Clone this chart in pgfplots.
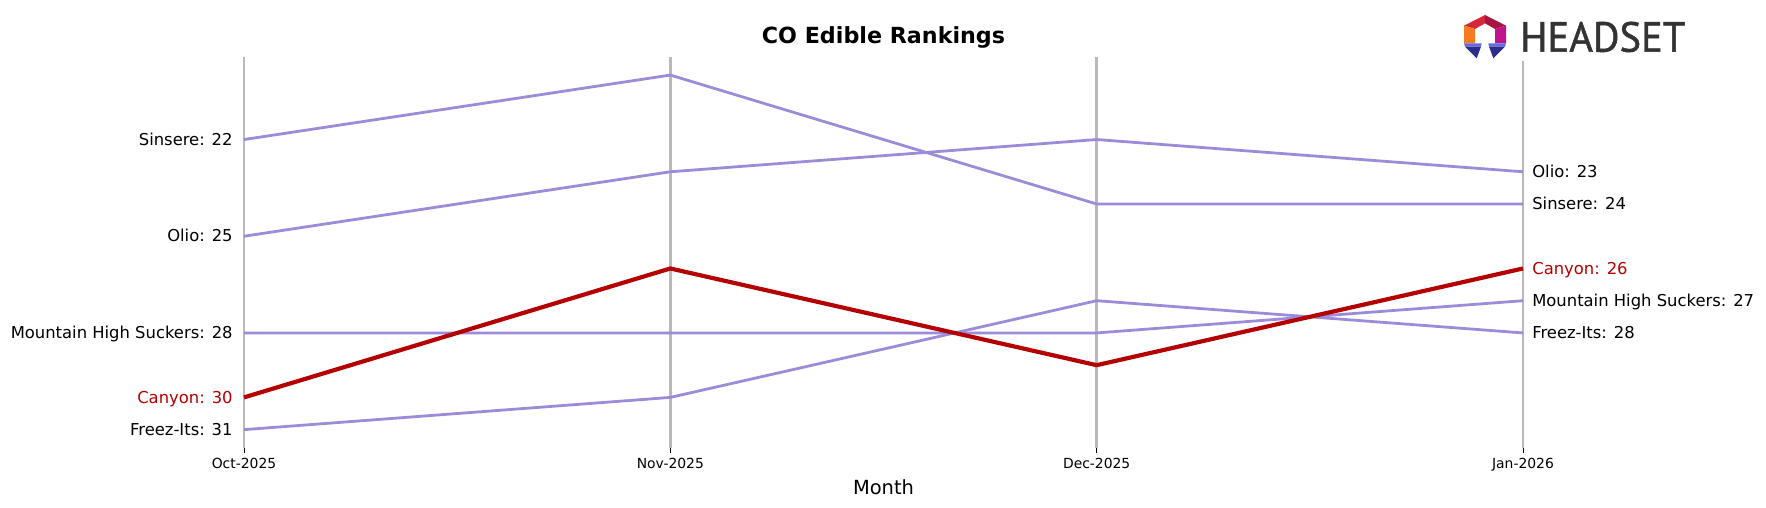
\documentclass[border=0pt]{standalone}
\usepackage{pgfplots}
\pgfplotsset{compat=1.18}
\usepackage{fontspec}
\usepackage{graphicx}
\setmainfont{DejaVu Sans}
\newfontfamily\logofont{PT Sans}[FakeBold=1.2]

\definecolor{rankpurple}{RGB}{155,139,217}
\definecolor{rankred}{RGB}{180,0,0}
\definecolor{gridgray}{RGB}{185,185,185}
\definecolor{logotext}{RGB}{51,51,51}
\definecolor{logored}{RGB}{214,40,57}
\definecolor{logocrimson}{RGB}{165,21,63}
\definecolor{logoorange}{RGB}{244,123,32}
\definecolor{logomagenta}{RGB}{192,20,140}
\definecolor{logolavender}{RGB}{106,106,224}
\definecolor{logoblue}{RGB}{43,46,140}

% ranks per month (Oct-2025 .. Jan-2026)
\pgfplotstableread{
x rank
0 22
1 20
2 24
3 24
}\sinsere
\pgfplotstableread{
x rank
0 25
1 23
2 22
3 23
}\olio
\pgfplotstableread{
x rank
0 28
1 28
2 28
3 27
}\mountain
\pgfplotstableread{
x rank
0 31
1 30
2 27
3 28
}\freezits
\pgfplotstableread{
x rank
0 30
1 26
2 29
3 26
}\canyon

\begin{document}
\begin{tikzpicture}
\useasboundingbox (0,0) rectangle (1271.52pt,365.04pt);
\begin{axis}[
  at={(175.68pt,42.48pt)}, anchor=south west,
  scale only axis, width=920.88pt, height=281.74pt,
  xmin=0, xmax=3, ymin=19.43, ymax=31.57, y dir=reverse,
  clip=false,
  axis x line*=bottom, hide y axis,
  axis line style={draw=none},
  xtick={0,1,2,3},
  xticklabels={Oct-2025,Nov-2025,Dec-2025,Jan-2026},
  xticklabel style={font=\fontsize{10}{12}\selectfont},
  tick align=outside, major tick length=3.6pt,
  tick style={black, line width=0.6pt},
]
% month lines
\foreach \m in {0,1,2,3} {
  \edef\temp{\noexpand\draw[gridgray, line width=2.1pt] (axis cs:\m,19.43) -- (axis cs:\m,31.57);}
  \temp
}
\addplot[rankpurple, line width=2pt] table[x=x,y=rank] {\sinsere};
\addplot[rankpurple, line width=2pt] table[x=x,y=rank] {\olio};
\addplot[rankpurple, line width=2pt] table[x=x,y=rank] {\mountain};
\addplot[rankpurple, line width=2pt] table[x=x,y=rank] {\freezits};
\addplot[rankred, line width=3pt] table[x=x,y=rank] {\canyon};

\begin{scope}[every node/.style={font=\fontsize{11.8}{14}\selectfont, inner sep=0pt, yshift=-4.1pt}]
\node[anchor=base east, xshift=-8pt] at (axis cs:0,22) {Sinsere: 22};
\node[anchor=base east, xshift=-8pt] at (axis cs:0,25) {Olio: 25};
\node[anchor=base east, xshift=-8pt] at (axis cs:0,28) {Mountain High Suckers: 28};
\node[anchor=base east, xshift=-8pt, text=rankred] at (axis cs:0,30) {Canyon: 30};
\node[anchor=base east, xshift=-8pt] at (axis cs:0,31) {Freez-Its: 31};
\node[anchor=base west, xshift=6.5pt] at (axis cs:3,23) {Olio: 23};
\node[anchor=base west, xshift=6.5pt] at (axis cs:3,24) {Sinsere: 24};
\node[anchor=base west, xshift=6.5pt, text=rankred] at (axis cs:3,26) {Canyon: 26};
\node[anchor=base west, xshift=6.5pt] at (axis cs:3,27) {Mountain High Suckers: 27};
\node[anchor=base west, xshift=6.5pt] at (axis cs:3,28) {Freez-Its: 28};
\end{scope}
\end{axis}

% title and axis label
\node[font=\fontsize{16}{19}\selectfont\bfseries] at (636.1pt,338.4pt) {CO Edible Rankings};
\node[font=\fontsize{14}{17}\selectfont] at (636.1pt,14.4pt) {Month};

% logo
\fill[white] (1045pt,321.3pt) rectangle (1220pt,362pt);
\node[anchor=base west, inner sep=0pt, text=logotext] at (1094.4pt,327.8pt)
  {\resizebox{118.8pt}{21.6pt}{\logofont HEADSET}};
\begin{scope}[shift={(1047.6pt,357.84pt)}, x=0.24pt, y=-0.24pt]
  \fill[logored] (90,15) -- (27,47) -- (60,57) -- (90,40) -- cycle;
  \fill[logocrimson] (90,15) -- (153,47) -- (120,57) -- (90,40) -- cycle;
  \fill[logoorange] (27,47) -- (27,100) -- (60,100) -- (60,57) -- cycle;
  \fill[logomagenta] (153,47) -- (153,100) -- (120,100) -- (120,57) -- cycle;
  \fill[logolavender] (27,100) -- (80,100) -- (78,110) -- (30,110) -- cycle;
  \fill[logoblue] (30,110) -- (78,110) -- (65,145) -- cycle;
  \fill[logolavender] (153,100) -- (100,100) -- (102,110) -- (150,110) -- cycle;
  \fill[logoblue] (150,110) -- (102,110) -- (115,145) -- cycle;
\end{scope}
\end{tikzpicture}
\end{document}
